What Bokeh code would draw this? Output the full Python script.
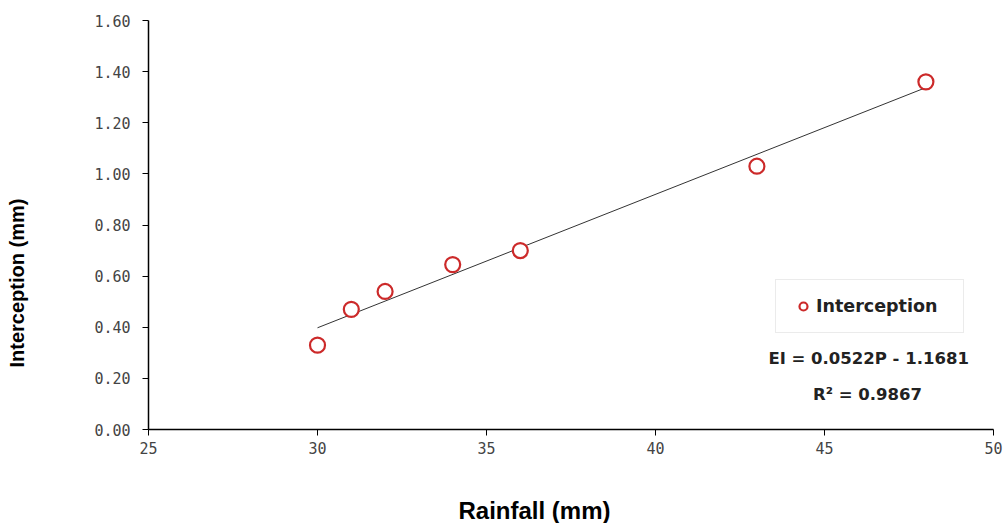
from bokeh.plotting import figure
from bokeh.models import Range1d, Label, Legend, LegendItem, FixedTicker, NumeralTickFormatter, ColumnDataSource, Title
from bokeh.embed import file_html
from bokeh.resources import INLINE

rainfall = [30, 31, 32, 34, 36, 43, 48]
interception = [0.33, 0.47, 0.54, 0.645, 0.70, 1.03, 1.36]
slope = 0.0522
intercept = -1.1681
x_ticks = [25, 30, 35, 40, 45, 50]
y_ticks = [0.0, 0.2, 0.4, 0.6, 0.8, 1.0, 1.2, 1.4, 1.6]

fit_x = [min(rainfall), max(rainfall)]
fit_y = [slope * v + intercept for v in fit_x]

p = figure(width=1005, height=523, output_backend="svg", toolbar_location=None,
           x_range=Range1d(25, 50), y_range=Range1d(0, 1.6),
           min_border_left=148, min_border_right=12, min_border_top=20, min_border_bottom=93)
p.outline_line_color = None
p.xgrid.visible = False
p.ygrid.visible = False

p.line(fit_x, fit_y, line_color="#333333", line_width=1)
src = ColumnDataSource(dict(x=rainfall, y=interception))
r = p.scatter("x", "y", source=src, marker="circle", size=15, fill_color="white",
              line_color="#cc2a2a", line_width=2.2)

for ax in (p.xaxis[0], p.yaxis[0]):
    ax.axis_line_color = "black"
    ax.axis_line_width = 1.5
    ax.major_tick_line_color = "black"
    ax.major_tick_out = 6
    ax.major_tick_in = 0
    ax.minor_tick_line_color = None
    ax.major_label_text_font = "DejaVu Sans Mono"
    ax.major_label_text_font_size = "15px"
    ax.major_label_text_color = "#444444"
    ax.axis_label = " "
    ax.axis_label_text_font_size = "1px"

p.xaxis.ticker = FixedTicker(ticks=x_ticks)
p.yaxis.ticker = FixedTicker(ticks=y_ticks)
p.yaxis.formatter = NumeralTickFormatter(format="0.00")
p.xaxis.major_label_standoff = 6
p.yaxis.major_label_standoff = 12
p.xaxis.axis_label_standoff = 34
p.yaxis.axis_label_standoff = 60

xtitle = Title(text="Rainfall (mm)", align="left", offset=310, standoff=0,
               text_font="Liberation Sans", text_font_style="bold", text_font_size="24px",
               text_color="black")
p.add_layout(xtitle, "below")
ytitle = Title(text="Interception (mm)", align="left", offset=62, standoff=0,
               text_font="Liberation Sans", text_font_style="bold", text_font_size="20px",
               text_color="black")
p.add_layout(ytitle, "left")

legend = Legend(items=[LegendItem(label="Interception", renderers=[r])],
                location=(627, 96), orientation="vertical",
                label_text_font="DejaVu Sans", label_text_font_style="bold",
                label_text_font_size="17.5px", label_text_color="#222222",
                border_line_color="#d8d8d8", border_line_width=1,
                background_fill_color="white", background_fill_alpha=1,
                glyph_width=22, glyph_height=20, label_standoff=2, label_width=131,
                padding=16, margin=0, spacing=0)
p.add_layout(legend, "center")

eq = Label(x=723, y=71, x_units="screen", y_units="screen", text="EI = 0.0522P  - 1.1681",
           text_font="DejaVu Sans", text_font_style="bold", text_font_size="16.5px",
           text_color="#222222", text_align="center", text_baseline="middle")
r2 = Label(x=719, y=35, x_units="screen", y_units="screen", text="R² = 0.9867",
           text_font="DejaVu Sans", text_font_style="bold", text_font_size="16.5px",
           text_color="#222222", text_align="center", text_baseline="middle")
p.add_layout(eq)
p.add_layout(r2)

open("out.html", "w").write(file_html(p, INLINE))
